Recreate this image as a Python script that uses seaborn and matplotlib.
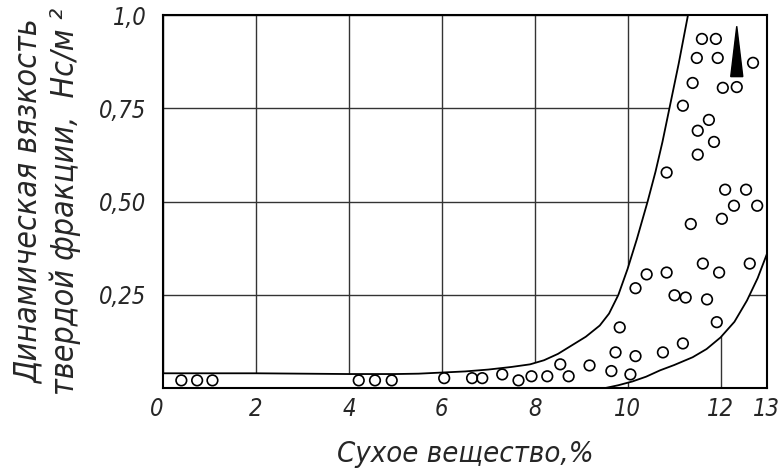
"""Viscosity of the solid fraction vs. dry matter content."""
import numpy as np
import pandas as pd
import seaborn as sns
import matplotlib
matplotlib.use("Agg")
import matplotlib.pyplot as plt

# measured points (dry matter %, viscosity Ns/m2)
dry_x = [0.39, 0.73, 1.06, 4.21, 4.56, 4.92, 6.05, 6.65, 6.87, 7.30,
         7.65, 7.93, 8.27, 8.55, 8.73, 9.18, 9.65, 10.06, 9.74, 10.17,
         9.83, 10.76, 11.19, 11.92, 10.17, 10.41, 10.84, 11.01, 11.25, 11.71,
         11.62, 11.97, 12.63, 11.36, 12.03, 12.29, 12.79, 10.84, 12.10, 12.55,
         11.51, 11.86, 11.51, 11.75, 11.19, 11.40, 12.05, 12.35, 11.49, 11.94,
         12.70, 11.60, 11.90]
visc_y = [0.021, 0.021, 0.021, 0.021, 0.021, 0.021, 0.027, 0.027, 0.027, 0.037,
          0.021, 0.032, 0.032, 0.064, 0.032, 0.061, 0.046, 0.037, 0.096, 0.086,
          0.163, 0.096, 0.120, 0.177, 0.268, 0.305, 0.310, 0.249, 0.243, 0.238,
          0.334, 0.310, 0.334, 0.440, 0.454, 0.489, 0.489, 0.578, 0.532, 0.532,
          0.626, 0.660, 0.690, 0.719, 0.757, 0.818, 0.805, 0.807, 0.885, 0.885,
          0.872, 0.936, 0.936]

# upper and lower envelope curves
upper_x = [0.0, 2.0, 4.0, 5.0, 5.5, 6.0, 6.5, 7.0, 7.5, 7.9, 8.2, 8.5, 8.8,
           9.1, 9.4, 9.6, 9.8, 10.0, 10.2, 10.43, 10.6, 10.75, 10.9, 11.1, 11.3]
upper_y = [0.040, 0.040, 0.038, 0.038, 0.039, 0.042, 0.045, 0.050, 0.057, 0.064,
           0.075, 0.092, 0.115, 0.138, 0.168, 0.200, 0.250, 0.320, 0.400, 0.500,
           0.580, 0.660, 0.750, 0.870, 1.000]
lower_x = [9.5, 9.8, 10.1, 10.4, 10.7, 11.0, 11.4, 11.7, 12.0, 12.3, 12.57,
           12.8, 13.0]
lower_y = [0.000, 0.008, 0.018, 0.031, 0.048, 0.062, 0.083, 0.105, 0.136, 0.178,
           0.235, 0.295, 0.360]

x_ticks = [0, 2, 4, 6, 8, 10, 12, 13]
x_labels = ["0", "2", "4", "6", "8", "10", "12", "13"]
y_ticks = [0.25, 0.5, 0.75, 1.0]
y_labels = ["0,25", "0,50", "0,75", "1,0"]

# arrow in the top right corner
arrow_x = 12.35
arrow_tip = 0.97
arrow_base = 0.835
arrow_half = 0.13

sns.set_style("white")
plt.rcParams["font.family"] = ["DejaVu Sans"]
plt.rcParams["font.stretch"] = "condensed"
plt.rcParams["font.style"] = "italic"

fig = plt.figure(figsize=(7.81, 4.70), dpi=100)
ax = fig.add_axes([0.209, 0.174, 0.773, 0.794])

ax.set_axisbelow(True)
ax.grid(True, color="#333333", linewidth=1.0)

# white band between the curves hides the grid
band_x = upper_x + [13.0] + lower_x[::-1] + [0.0]
band_y = upper_y + [1.0] + lower_y[::-1] + [0.0]
ax.fill(band_x, band_y, color="white", zorder=1, lw=0)

pts = pd.DataFrame({"x": dry_x, "y": visc_y})
sns.lineplot(x=upper_x, y=upper_y, sort=False, color="black", lw=1.3,
             ax=ax, zorder=2)
sns.lineplot(x=lower_x, y=lower_y, sort=False, color="black", lw=1.3,
             ax=ax, zorder=2)
sns.scatterplot(data=pts, x="x", y="y", marker="o", s=58,
                facecolor="none", edgecolor="black", linewidth=1.2,
                ax=ax, zorder=3)

ax.fill([arrow_x - arrow_half, arrow_x, arrow_x + arrow_half],
        [arrow_base, arrow_tip, arrow_base], color="black", zorder=4)

ax.set_xlim(0, 13)
ax.set_ylim(0, 1.0)
ax.set_xticks(x_ticks)
ax.set_xticklabels(x_labels, fontsize=17)
ax.set_yticks(y_ticks)
ax.set_yticklabels(y_labels, fontsize=17)
ax.get_xticklabels()[0].set_ha("right")
ax.tick_params(length=0, pad=6)
ax.tick_params(axis="y", pad=12)
for s in ax.spines.values():
    s.set_color("black")
    s.set_linewidth(1.5)

ax.set_xlabel("Сухое вещество,%", fontsize=21, labelpad=14)
ax.set_ylabel("Динамическая вязкость\nтвердой фракции,  Нс/м ²",
              fontsize=23, linespacing=1.2)
ax.yaxis.set_label_coords(-0.137, 0.5)

fig.savefig("out.png", dpi=100)
